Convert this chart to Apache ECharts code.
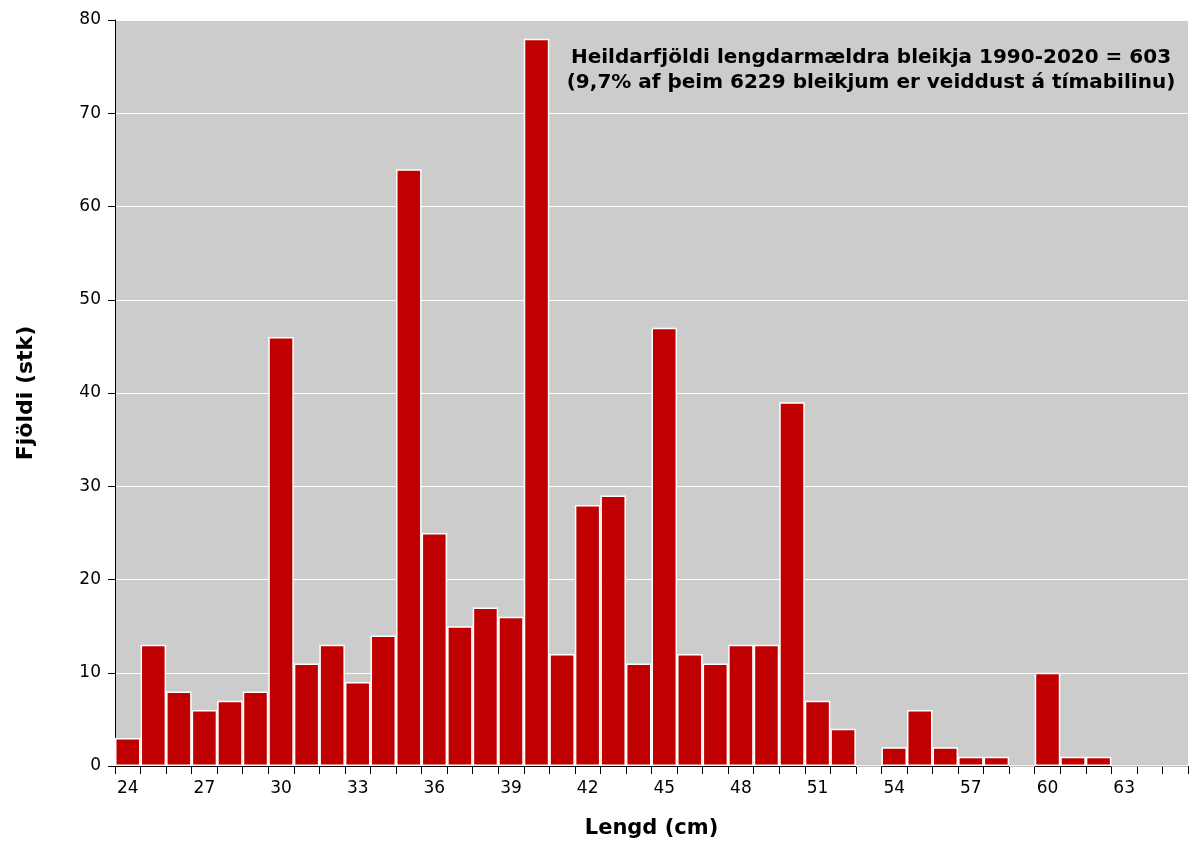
<!DOCTYPE html>
<html lang="is">
<head>
<meta charset="UTF-8">
<title>Lengdardreifing bleikju</title>
<script src="https://cdn.jsdelivr.net/npm/echarts@6/dist/echarts.min.js"></script>
<style>
  html, body { margin: 0; padding: 0; background: #fff; }
  #chart { width: 1190px; height: 841px; }
</style>
</head>
<body>
<div id="chart"></div>
<script>
// lengdarflokkar (cm)
var lengths = [];
for (var l = 24; l <= 65; l++) lengths.push(String(l));

// fjöldi fiska í hverjum flokki
var counts = [3, 13, 8, 6, 7, 8, 46, 11, 13, 9, 14, 64, 25, 15, 17, 16, 78, 12, 28, 29, 11,
              47, 12, 11, 13, 13, 39, 7, 4, 0, 2, 6, 2, 1, 1, 0, 10, 1, 1, 0, 0, 0];

var yTicks = [0, 10, 20, 30, 40, 50, 60, 70, 80];

var titleLines = [
  'Heildarfjöldi lengdarmældra bleikja 1990-2020 = 603',
  '(9,7% af þeim 6229 bleikjum er veiddust á tímabilinu)'
];

var fontFam = 'DejaVu Sans, Verdana, sans-serif';
var myChart = echarts.init(document.getElementById('chart'));

var option = {
  animation: false,
  textStyle: { fontFamily: fontFam },
  grid: {
    left: 115, right: 2, top: 20, bottom: 75,
    outerBoundsMode: 'none',
    containLabel: false,
    show: true, backgroundColor: '#cccccc', borderWidth: 0
  },
  graphic: [{
    type: 'text',
    x: 871, y: 45,
    z: 100,
    style: {
      text: titleLines.join('\n'),
      align: 'center',
      verticalAlign: 'top',
      font: 'bold 20px ' + fontFam,
      lineHeight: 25,
      fill: '#000'
    }
  }],
  xAxis: {
    type: 'category',
    data: lengths,
    name: 'Lengd (cm)',
    nameLocation: 'middle',
    nameGap: 52,
    nameTextStyle: { fontFamily: fontFam, fontSize: 21, fontWeight: 'bold', color: '#000' },
    axisLine: { lineStyle: { color: '#000', width: 1 } },
    axisTick: { show: true, interval: 0, length: 8, lineStyle: { color: '#000' } },
    axisLabel: {
      interval: function (i) { return i % 3 === 0; },
      fontSize: 17, color: '#000', margin: 14
    },
    splitLine: { show: false }
  },
  yAxis: {
    type: 'value',
    min: yTicks[0], max: yTicks[yTicks.length - 1], interval: 10,
    name: 'Fjöldi (stk)',
    nameLocation: 'middle',
    nameGap: 78,
    nameTextStyle: { fontFamily: fontFam, fontSize: 22, fontWeight: 'bold', color: '#000' },
    axisLine: { show: true, lineStyle: { color: '#000', width: 1 } },
    axisTick: { show: true, length: 7, lineStyle: { color: '#000' } },
    axisLabel: { fontSize: 17, color: '#000', margin: 14 },
    splitLine: { show: true, lineStyle: { color: '#ffffff', width: 1 } }
  },
  series: [{
    type: 'bar',
    data: counts,
    barCategoryGap: '0%',
    itemStyle: { color: '#c00000', borderColor: '#ffffff', borderWidth: 1.5 }
  }]
};

myChart.setOption(option);
</script>
</body>
</html>
